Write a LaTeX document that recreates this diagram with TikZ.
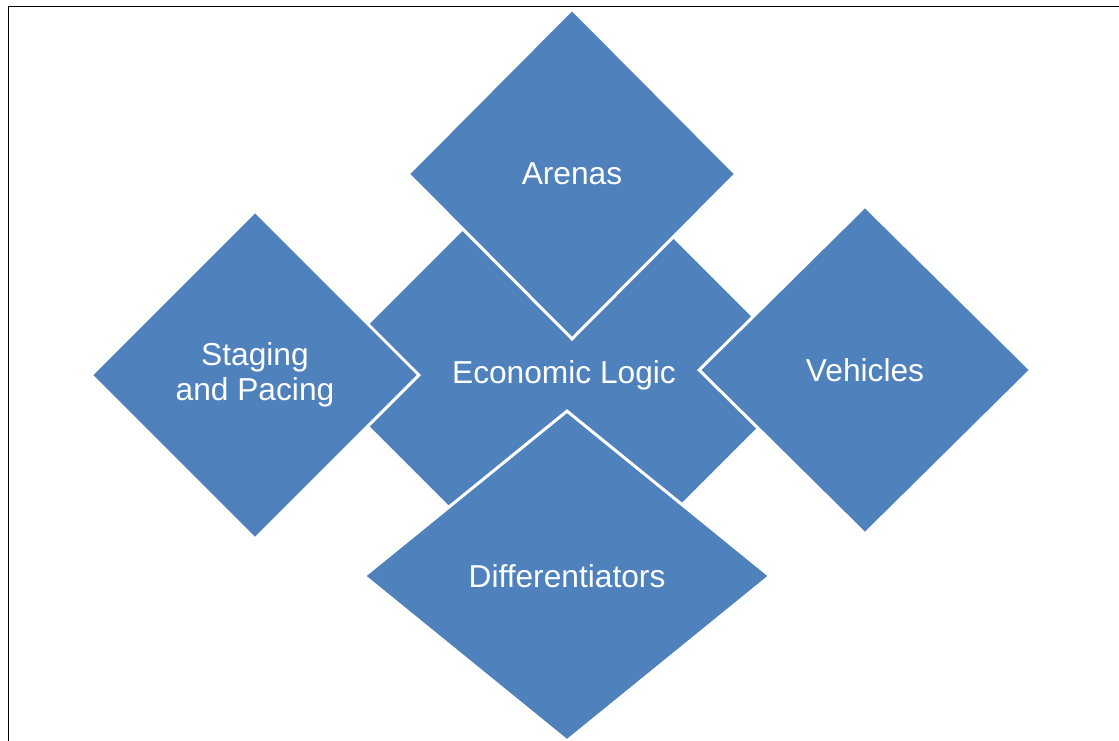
\documentclass[tikz,border=0pt]{standalone}
\usepackage{fontspec}
\setmainfont{Liberation Sans}
\usetikzlibrary{shapes.geometric}
\definecolor{officeblue}{RGB}{79,129,189}
\tikzset{
  dia/.style={diamond, fill=officeblue, draw=white, line width=3pt, inner sep=0pt,
    text=white, align=center, font=\fontsize{31.7}{35}\selectfont},
  frameline/.style={draw=black, line width=1.8pt}
}
\begin{document}
\begin{tikzpicture}[x=1pt,y=-1pt]
\useasboundingbox (0,0) rectangle (1119,740);
\clip (0,0) rectangle (1119,740);
\fill[white] (0,0) rectangle (1119,740);
\draw[frameline] (8.5,760) -- (8.5,6.5) -- (1130,6.5);
\node[dia, minimum width=497pt, minimum height=497pt] (logic) at (564,375) {Economic Logic};
\node[dia, minimum width=329pt, minimum height=331pt] (arenas) at (572,174) {Arenas};
\node[dia, minimum width=329pt, minimum height=329pt] (staging) at (255,375) {Staging\\and Pacing};
\node[dia, minimum width=333pt, minimum height=329pt] (vehicles) at (865,370) {Vehicles};
\node[dia, minimum width=407pt, minimum height=331pt] (diff) at (567,576) {Differentiators};
\end{tikzpicture}
\end{document}
